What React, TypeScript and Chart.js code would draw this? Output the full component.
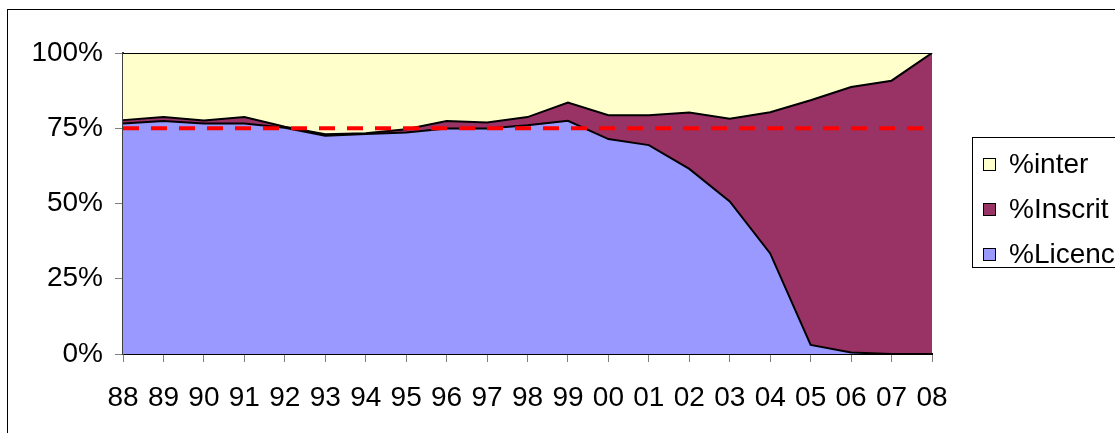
import React, { useEffect, useRef } from "react";
import { Chart, registerables } from "chart.js";

Chart.register(...registerables);

const years = ["88", "89", "90", "91", "92", "93", "94", "95", "96", "97", "98", "99", "00", "01", "02", "03", "04", "05", "06", "07", "08"];
const licenc = [76.6, 77.4, 76.6, 76.6, 75.2, 72.5, 73.1, 73.6, 74.9, 74.9, 76.0, 77.5, 71.4, 69.4, 61.5, 50.7, 33.4, 3.0, 0.5, 0, 0];
const inscrit = [1.1, 1.3, 1.0, 2.1, 0.3, 0.5, 0.2, 1.1, 2.5, 2.0, 2.7, 6.0, 7.9, 9.9, 18.7, 27.5, 46.9, 81.3, 88.2, 90.8, 100];
const inter = [22.3, 21.3, 22.4, 21.3, 24.5, 27.0, 26.7, 25.3, 22.6, 23.1, 21.3, 16.5, 20.7, 20.7, 19.8, 21.8, 19.7, 15.7, 11.3, 9.2, 0];
const threshold = [75, 75, 75, 75, 75, 75, 75, 75, 75, 75, 75, 75, 75, 75, 75, 75, 75, 75, 75, 75, 75];
const yTicks = [0, 25, 50, 75, 100];

const FONT = "'Liberation Sans', Arial, sans-serif";
const legendItems = [
  { label: "%inter", color: "#FFFFCC" },
  { label: "%Inscrit", color: "#993366" },
  { label: "%Licenc", color: "#9999FF" },
];

export default function App() {
  const ref = useRef<HTMLCanvasElement>(null);
  useEffect(() => {
    if (!ref.current) return;
    const chart = new Chart(ref.current, {
      type: "line",
      data: {
        labels: years,
        datasets: [
          {
            label: "seuil",
            data: threshold,
            stack: "ref",
            borderColor: "#FF0000",
            borderWidth: 4,
            borderDash: [16, 12],
            fill: false,
            pointRadius: 0,
            order: -1,
          },
          {
            label: "%Licenc",
            data: licenc,
            stack: "main",
            borderColor: "#000000",
            borderWidth: 2,
            backgroundColor: "#9999FF",
            fill: "origin",
            pointRadius: 0,
            tension: 0,
          },
          {
            label: "%Inscrit",
            data: inscrit,
            stack: "main",
            borderColor: "#000000",
            borderWidth: 2,
            backgroundColor: "#993366",
            fill: "-1",
            pointRadius: 0,
            tension: 0,
          },
          {
            label: "%inter",
            data: inter,
            stack: "main",
            borderColor: "#000000",
            borderWidth: 2,
            backgroundColor: "#FFFFCC",
            fill: "-1",
            pointRadius: 0,
            tension: 0,
          },
        ],
      },
      options: {
        animation: false,
        responsive: false,
        devicePixelRatio: 1,
        layout: { padding: { left: 0, top: 53, right: 183, bottom: 0 } },
        plugins: { legend: { display: false }, tooltip: { enabled: false } },
        scales: {
          x: {
            offset: false,
            ticks: {
              autoSkip: false,
              maxRotation: 0,
              color: "#000",
              font: { family: FONT, size: 28 },
              padding: 19,
            },
            grid: { drawOnChartArea: false, drawTicks: true, tickLength: 8, color: "#808080" },
            border: { display: true, color: "#000", width: 2 },
            afterFit: (s: any) => { s.height = 79; },
          },
          y: {
            stacked: true,
            min: 0,
            max: 100,
            afterBuildTicks: (s: any) => { s.ticks = yTicks.map((v) => ({ value: v })); },
            ticks: {
              color: "#000",
              font: { family: FONT, size: 28 },
              padding: 12,
              callback: (v: any) => v + "%",
            },
            grid: { drawOnChartArea: false, drawTicks: true, tickLength: 8, color: "#808080" },
            border: { display: true, color: "#404040", width: 2 },
            afterFit: (s: any) => { s.width = 123; },
          },
        },
      },
    });
    return () => chart.destroy();
  }, []);

  return (
    <div style={{ position: "absolute", left: 0, top: 0, width: 1115, height: 433, overflow: "hidden", background: "#fff", fontFamily: FONT }}>
      <div style={{ position: "absolute", left: 7, top: 9, width: 1200, height: 500, border: "1px solid #000" }} />
      <canvas ref={ref} width={1115} height={433} style={{ position: "absolute", left: 0, top: 0 }} />
      <div style={{ position: "absolute", left: 972, top: 137, width: 200, height: 129, border: "1px solid #000", background: "#fff" }}>
        {legendItems.map((it, i) => (
          <div key={it.label} style={{ position: "absolute", left: 10, top: 11 + i * 45, height: 30, display: "flex", alignItems: "center", whiteSpace: "nowrap" }}>
            <span style={{ display: "inline-block", width: 11, height: 11, background: it.color, border: "1px solid #000", marginRight: 13 }} />
            <span style={{ fontSize: 28, color: "#000", lineHeight: "30px" }}>{it.label}</span>
          </div>
        ))}
      </div>
    </div>
  );
}
